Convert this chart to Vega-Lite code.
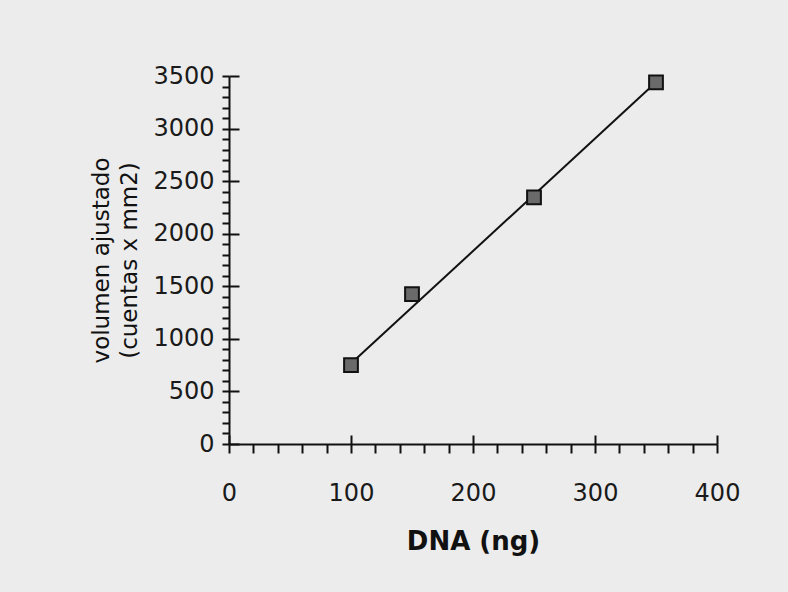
{
  "$schema": "https://vega.github.io/schema/vega-lite/v6.json",
  "width": 488,
  "height": 368,
  "autosize": {"type": "none"},
  "padding": {"left": 229, "top": 76, "right": 71, "bottom": 148},
  "background": "#ececec",
  "config": {
    "view": {"stroke": null},
    "axis": {
      "grid": false,
      "domainColor": "#111111",
      "domainWidth": 2,
      "tickColor": "#111111",
      "tickWidth": 2,
      "labelFont": "DejaVu Sans",
      "labelFontSize": 24,
      "labelColor": "#1a1a1a",
      "labelOverlap": false,
      "labelFlush": false,
      "titleColor": "#111111"
    }
  },
  "datasets": {
    "points": [
      {"DNA": 100, "volumen": 750},
      {"DNA": 150, "volumen": 1425},
      {"DNA": 250, "volumen": 2345},
      {"DNA": 350, "volumen": 3440}
    ],
    "fit": [
      {"DNA": 100, "volumen": 765},
      {"DNA": 350, "volumen": 3440}
    ]
  },
  "layer": [
    {
      "data": {"name": "fit"},
      "mark": {"type": "line", "color": "#111111", "strokeWidth": 2},
      "encoding": {
        "x": {
          "field": "DNA",
          "type": "quantitative",
          "scale": {"domain": [0, 400], "nice": false, "zero": true},
          "axis": {
            "orient": "bottom",
            "values": [0, 20, 40, 60, 80, 100, 120, 140, 160, 180, 200, 220, 240, 260, 280, 300, 320, 340, 360, 380, 400],
            "tickSize": 9,
            "labelExpr": "datum.value % 100 === 0 ? datum.label : ''",
            "labelPadding": 28,
            "title": "DNA (ng)",
            "titleFont": "DejaVu Sans",
            "titleFontSize": 26,
            "titleFontWeight": "bold",
            "titleX": 244,
            "titleY": 105,
            "titleBaseline": "alphabetic",
            "titleAlign": "center"
          }
        },
        "y": {
          "field": "volumen",
          "type": "quantitative",
          "scale": {"domain": [0, 3500], "nice": false, "zero": true},
          "axis": {
            "orient": "left",
            "values": [0, 100, 200, 300, 400, 500, 600, 700, 800, 900, 1000, 1100, 1200, 1300, 1400, 1500, 1600, 1700, 1800, 1900, 2000, 2100, 2200, 2300, 2400, 2500, 2600, 2700, 2800, 2900, 3000, 3100, 3200, 3300, 3400, 3500],
            "tickSize": 7,
            "labelExpr": "datum.value % 500 === 0 ? datum.label : ''",
            "labelPadding": 8,
            "format": "d",
            "title": ["volumen ajustado", "(cuentas x mm2)"],
            "titleFont": "DejaVu Sans",
            "titleFontSize": 23,
            "titleFontWeight": "normal",
            "titleAngle": -90,
            "titleX": -121,
            "titleY": 184,
            "titleAlign": "center",
            "titleBaseline": "alphabetic",
            "titleLineHeight": 28
          }
        }
      }
    },
    {
      "data": {"name": "points"},
      "mark": {"type": "point", "shape": "square", "size": 190, "filled": true, "fill": "#6a6a6a", "stroke": "#111111", "strokeWidth": 2, "opacity": 1},
      "encoding": {
        "x": {
          "field": "DNA",
          "type": "quantitative",
          "axis": {
            "orient": "bottom",
            "values": [0, 100, 200, 300, 400],
            "tickSize": -9,
            "labels": false,
            "domain": false,
            "title": null
          }
        },
        "y": {
          "field": "volumen",
          "type": "quantitative",
          "axis": {
            "orient": "left",
            "values": [0, 500, 1000, 1500, 2000, 2500, 3000, 3500],
            "tickSize": -10,
            "labels": false,
            "domain": false,
            "title": null
          }
        }
      }
    }
  ],
  "resolve": {"axis": {"x": "independent", "y": "independent"}}
}
